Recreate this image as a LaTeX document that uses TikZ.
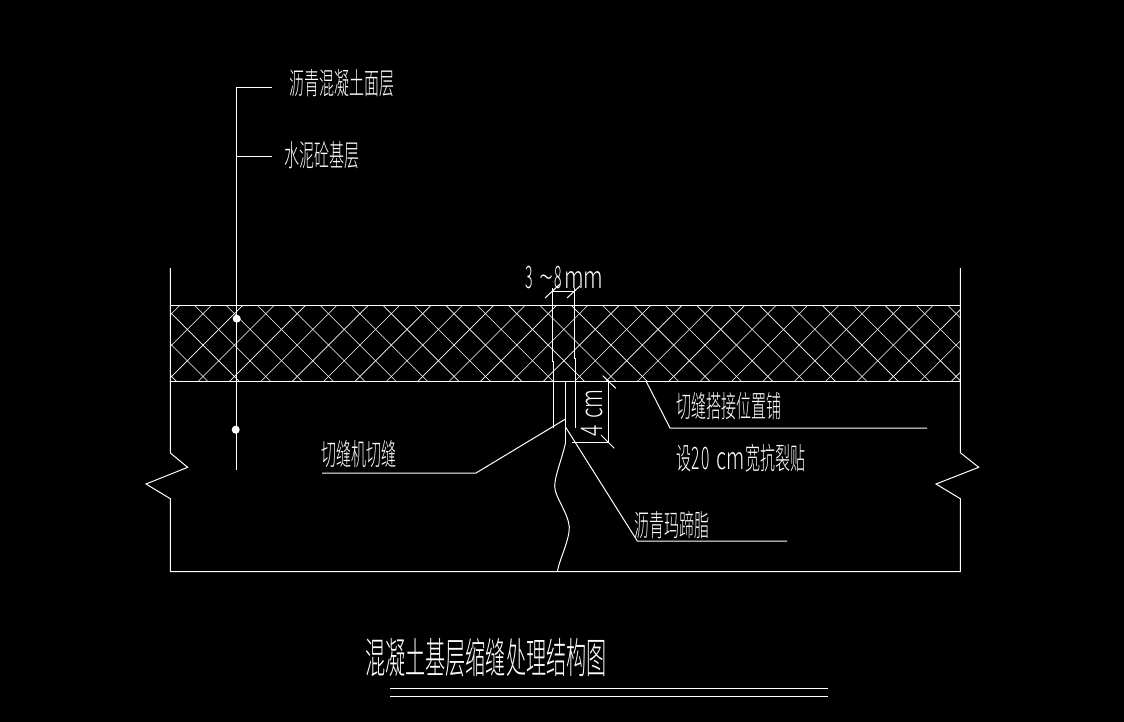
\documentclass[tikz,border=0pt]{standalone}
\usepackage{fontspec}
\newfontfamily\cjk[UprightFont={* Light},BoldFont={* Light}]{Noto Sans CJK SC}
\newcommand{\cn}[3]{\scalebox{#1}[1]{\fontsize{#2}{#2}\selectfont\cjk #3}}
\tikzset{
  ln/.style={draw=white,line width=1pt},
  hatch/.style={draw=white,line width=.6pt},
  lab/.style={text=white,inner sep=0pt,outer sep=0pt,anchor=west},
  dotmark/.style={circle,fill=white,inner sep=0pt,minimum size=8pt}
}
\begin{document}
\begin{tikzpicture}[x=1pt,y=-1pt]
\fill[black] (0,0) rectangle (1124,722);
\useasboundingbox (0,0) rectangle (1124,722);
% hatch
\begin{scope}
\clip (170.3,305.3) rectangle (960.3,381.3);
\foreach \k in {-3,...,28}{
  \pgfmathsetmacro{\c}{516.7+31.38*\k}
  \draw[hatch] ({\c-305.3},305.3) -- ({\c-381.3},381.3);
}
\foreach \k in {-5,...,26}{
  \pgfmathsetmacro{\d}{-110.7+31.38*\k}
  \draw[hatch] ({\d+305.3},305.3) -- ({\d+381.3},381.3);
}
\end{scope}
% outer
\draw[ln] (170.3,268) -- (170.3,453) -- (187.7,467.3) -- (146,484) -- (170.3,498.7) -- (170.3,571.5)
  -- (960.3,571.5) -- (960.3,498.7) -- (936,484) -- (978.7,467.3) -- (960.3,452.7) -- (960.3,268);
\draw[ln] (170.3,305.3) -- (960.3,305.3);
\draw[ln] (170.3,381.3) -- (960.3,381.3);
% left leader
\draw[ln] (272,88) -- (236.5,88) -- (236.5,470);
\draw[ln] (236.5,157) -- (272,157);
\node[dotmark] (d1) at (236.7,318.7) {};
\node[dotmark] (d2) at (235.7,429.7) {};
% slit
\draw[ln] (552.5,288) -- (552.5,361) -- (553.3,361) -- (553.3,428);
\draw[ln] (574.5,288) -- (574.5,358) -- (575.5,358) -- (575.5,428);
\draw[ln] (565.5,381.3) -- (565.5,443);
\draw[ln] (552.5,291) -- (574.5,291);
\draw[ln] (545,298) -- (560,284);
\draw[ln] (567,298) -- (580,286);
% 4cm dim
\draw[ln] (608.7,380) -- (608.7,442) -- (571.7,442);
\draw[ln] (602.7,375.7) -- (615.7,388.3);
\draw[ln] (601,435) -- (614.3,448.3);
% crack
\draw[ln] (565.5,443) .. controls (561,462) and (555,475) .. (554.7,486)
  .. controls (554.5,497) and (568,512) .. (569.3,527)
  .. controls (569.5,540) and (560,558) .. (557.3,571.5);
% leaders
\draw[ln] (565.5,419) -- (476,473) -- (322,473);
\draw[ln] (565.7,427.3) -- (637.3,541) -- (787,541);
\draw[ln] (646,381) -- (670,428) -- (927,428);
% double line
\draw[ln] (390,688.3) -- (828,688.3);
\draw[ln] (390,696.3) -- (828,696.3);
% labels
\node[lab] (t1) at (289,83.5) {\cn{.5}{30}{沥青混凝土面层}};
\node[lab] (t2) at (284,155.5) {\cn{.5}{30}{水泥砼基层}};
\node[lab] (t3) at (321,454) {\cn{.5}{30}{切缝机切缝}};
\node[lab] (t4) at (676,406) {\cn{.5}{30}{切缝搭接位置铺}};
\node[lab] (t5) at (676,458.5) {\cn{.5}{30}{设}\hspace{0.5pt}\cn{.5}{31}{2\hspace{3pt}0}\hspace{7pt}\cn{.65}{31}{cm}\hspace{1pt}\cn{.5}{30}{宽抗裂贴}};
\node[lab] (t6) at (634,525) {\cn{.5}{30}{沥青玛蹄脂}};
\node[lab] (t7) at (365,658) {\cn{.48}{42}{混凝土基层缩缝处理结构图}};
\node[lab,anchor=base west] (t8) at (525,288) {\cn{.45}{31}{3}\hspace{7pt}\cn{.85}{31}{\char"007E}\hspace{1pt}\cn{.45}{31}{8}\hspace{2pt}\cn{.7}{31}{mm}};
\node[lab,anchor=base west,rotate=90] (t9) at (602,436) {\cn{.7}{30}{4}\hspace{6pt}\cn{.7}{30}{cm}};
\end{tikzpicture}
\end{document}
